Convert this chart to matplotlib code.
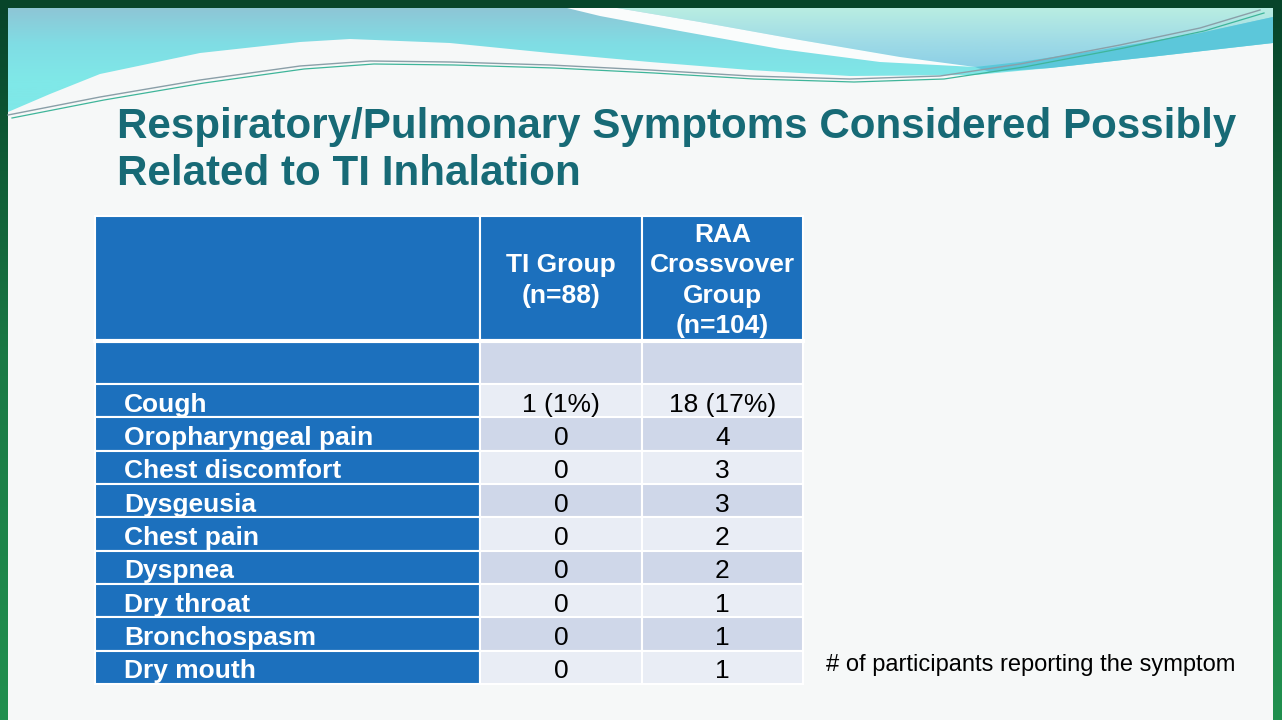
import numpy as np
import matplotlib.pyplot as plt
from matplotlib.patches import Rectangle, Polygon
from matplotlib.colors import LinearSegmentedColormap

plt.rcParams['font.family'] = ['Liberation Sans', 'DejaVu Sans']

title_lines = ["Respiratory/Pulmonary Symptoms Considered Possibly",
               "Related to TI Inhalation"]
col_headers = ["", "TI Group\n(n=88)", "RAA\nCrossvover\nGroup\n(n=104)"]
symptoms = ["Cough", "Oropharyngeal pain", "Chest discomfort", "Dysgeusia",
            "Chest pain", "Dyspnea", "Dry throat", "Bronchospasm", "Dry mouth"]
ti_group = ["1 (1%)", "0", "0", "0", "0", "0", "0", "0", "0"]
raa_group = ["18 (17%)", "4", "3", "3", "2", "2", "1", "1", "1"]
footnote = "# of participants reporting the symptom"

W, H = 1282, 720
fig = plt.figure(figsize=(W / 100, H / 100), dpi=100)
ax = fig.add_axes([0, 0, 1, 1])
ax.set_xlim(0, W)
ax.set_ylim(H, 0)
ax.axis('off')

# slide background + green frame
ax.add_patch(Rectangle((0, 0), W, H, color='#f6f8f8', zorder=0))
frame = np.linspace(0, 1, 256).reshape(-1, 1)
gcm = LinearSegmentedColormap.from_list('g', ['#07432a', '#1a7a45', '#21904f'])
ax.imshow(frame, cmap=gcm, extent=(0, 8, H, 0), aspect='auto', zorder=1)
ax.imshow(frame, cmap=gcm, extent=(1273, W, H, 0), aspect='auto', zorder=1)
ax.add_patch(Rectangle((0, 0), W, 8, color='#07452a', zorder=1))

# banner at top
low_edge = [(1273, 43), (1150, 57), (1050, 68), (975, 75), (850, 76), (750, 70),
            (650, 62), (550, 53), (450, 43), (350, 39), (300, 42), (200, 53),
            (100, 74), (50, 94), (8, 112)]
base = Polygon([(8, 8), (1273, 8)] + low_edge, closed=True, facecolor='none',
               edgecolor='none')
ax.add_patch(base)
ccm = LinearSegmentedColormap.from_list('c', ['#8ec6d6', '#80dde4', '#7fe8e8',
                                              '#7fe8e8'])
im = ax.imshow(np.linspace(0, 1, 128).reshape(-1, 1), cmap=ccm,
               extent=(8, 1273, 115, 8), aspect='auto', zorder=2)
im.set_clip_path(base)

top_right = Polygon([(617, 8), (1273, 8), (1273, 17), (1200, 33), (1100, 50),
                     (1020, 62), (975, 67), (900, 57), (800, 40), (700, 22)],
                    closed=True, facecolor='none', edgecolor='none')
ax.add_patch(top_right)
mcm = LinearSegmentedColormap.from_list('m', ['#b9ede2', '#a2dde6', '#8ccfe6'])
im2 = ax.imshow(np.linspace(0, 1, 128).reshape(-1, 1), cmap=mcm,
                extent=(617, 1273, 68, 8), aspect='auto', zorder=3)
im2.set_clip_path(top_right)
ax.add_patch(Polygon([(975, 67), (1020, 62), (1100, 50), (1200, 33), (1273, 17),
                      (1273, 43), (1150, 57), (1050, 68), (990, 72)],
                     closed=True, facecolor='#5cc7da', edgecolor='none', zorder=3))
ax.add_patch(Polygon([(567, 8), (617, 8), (700, 22), (800, 40), (900, 57),
                      (975, 67), (880, 62), (780, 49), (680, 31), (600, 16)],
                     closed=True, facecolor='#fafcfc', edgecolor='none', zorder=4))
lx = [8, 100, 200, 300, 370, 450, 550, 650, 750, 850, 940, 1020, 1120, 1200, 1260]
ly = [115, 97, 80, 66, 61, 62, 65, 70, 76, 79, 76, 64, 45, 28, 10]
ax.plot(lx, ly, color='#8a9fa8', lw=1.0, zorder=5)
ax.plot(np.array(lx) + 4, np.array(ly) + 3, color='#3fb59a', lw=0.9, zorder=5)

# title
ax.text(117, 138, title_lines[0], fontsize=30.3, fontweight='bold',
        color='#176a76', va='baseline', ha='left', zorder=6)
ax.text(117, 185, title_lines[1], fontsize=30.3, fontweight='bold',
        color='#176a76', va='baseline', ha='left', zorder=6)

# table
blue = '#1c70bd'
dark_cell = '#cfd7e9'
light_cell = '#e9edf5'
col_x = [95, 480, 642, 803]
head_top, head_bot = 216, 341
blank_bot = 384
row_h = (684 - blank_bot) / len(symptoms)

for c in range(3):
    x0, x1 = col_x[c], col_x[c + 1]
    ax.add_patch(Rectangle((x0, head_top), x1 - x0, head_bot - head_top,
                           facecolor=blue, edgecolor='white', lw=1.5, zorder=6))
    ax.text((x0 + x1) / 2, (head_top + head_bot) / 2 + 2, col_headers[c],
            fontsize=19, fontweight='bold', color='white', ha='center',
            va='center', linespacing=1.32, zorder=7)
    ax.add_patch(Rectangle((x0, head_bot), x1 - x0, blank_bot - head_bot,
                           facecolor=blue if c == 0 else dark_cell,
                           edgecolor='white', lw=1.5, zorder=6))
ax.plot([95, 803], [head_bot, head_bot], color='white', lw=3, zorder=8)

for i, name in enumerate(symptoms):
    y0 = blank_bot + i * row_h
    yb = y0 + row_h / 2 + 11
    fill = light_cell if i % 2 == 0 else dark_cell
    vals = [name, ti_group[i], raa_group[i]]
    for c in range(3):
        x0, x1 = col_x[c], col_x[c + 1]
        ax.add_patch(Rectangle((x0, y0), x1 - x0, row_h,
                               facecolor=blue if c == 0 else fill,
                               edgecolor='white', lw=1.5, zorder=6))
    ax.text(124, yb, vals[0], fontsize=19, fontweight='bold', color='white',
            ha='left', va='baseline', zorder=7)
    for c in (1, 2):
        ax.text((col_x[c] + col_x[c + 1]) / 2, yb, vals[c], fontsize=19,
                color='black', ha='center', va='baseline', zorder=7)

ax.text(826, 671, footnote, fontsize=17, color='black', ha='left',
        va='baseline', zorder=7)

fig.savefig('out.png', dpi=100)
